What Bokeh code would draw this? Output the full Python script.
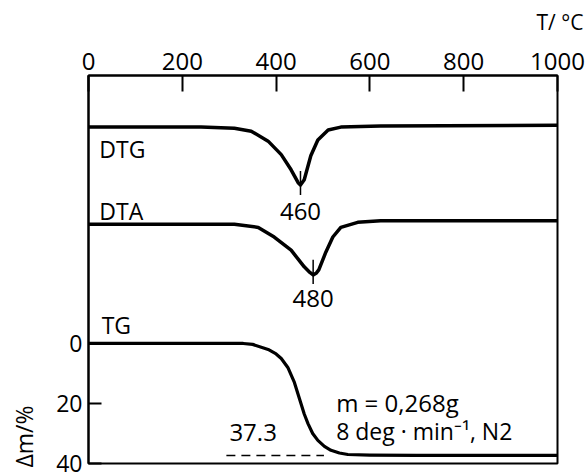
import math
from bokeh.plotting import figure
from bokeh.models import Range1d, FixedTicker, Label, Title
from bokeh.embed import file_html
from bokeh.resources import INLINE

# ---- data ----
t_ticks = [0, 200, 400, 600, 800, 1000]
dm_ticks = [0, 20, 40]

# DTG signal (arbitrary units, baseline 0, peak about -10)
dtg_T = [0, 240, 311, 347, 383, 411, 432, 447, 452, 460, 474, 489, 511, 538, 623, 1000]
dtg_val = [0, 0, -0.2, -0.7, -2.4, -4.7, -7.3, -9.5, -9.9, -9.0, -4.9, -2.2, -0.5, 0, 0.2, 0.3]
dtg_peak_label = "460"

# DTA signal (arbitrary units, baseline 0, peak about -10)
dta_T = [0, 240, 311, 362, 396, 432, 460, 472, 479, 486, 491, 506, 521, 538, 574, 623, 1000]
dta_val = [0, 0, 0, -0.6, -2.5, -5.1, -8.4, -9.5, -10.0, -9.6, -9.0, -5.5, -2.5, -0.6, 0.4, 0.7, 0.7]
dta_peak_label = "480"

# TG mass loss (%)
tg_T = [0, 330, 350, 383, 400, 411, 425, 439, 447, 453, 460, 468, 478, 489, 503, 517, 535, 553, 600, 700, 1000]
tg_dm = [0, 0, 0.3, 2, 3.5, 5, 8, 13, 17, 20, 23.5, 26.7, 30, 32.3, 34.3, 35.6, 36.5, 37.0, 37.2, 37.3, 37.3]
final_loss = 37.3
ref_T = [294, 502]

FONT = "Open Sans"

p = figure(width=587, height=472,
           x_range=Range1d(0, 1000), y_range=Range1d(40, -89.3),
           x_axis_location="above", y_axis_location="left",
           output_backend="svg", toolbar_location=None,
           min_border_left=87, min_border_right=30,
           min_border_top=72, min_border_bottom=9)
p.extra_y_ranges = {"dtg": Range1d(-57.46, 8.81), "dta": Range1d(-47.25, 29.41)}

p.xgrid.visible = False
p.ygrid.visible = False
p.outline_line_color = "black"
p.outline_line_width = 2
p.background_fill_color = "white"
p.border_fill_color = "white"

xa = p.xaxis[0]
xa.ticker = FixedTicker(ticks=t_ticks)
xa.major_tick_in = 16
xa.major_tick_out = 0
xa.minor_tick_line_color = None
xa.axis_line_width = 2
xa.major_tick_line_width = 2
xa.major_label_text_font = FONT
xa.major_label_text_font_size = "24px"
xa.major_label_text_color = "black"
xa.major_label_standoff = 6
# blank axis label used only as spacing between tick labels and the caption
xa.axis_label = " "
xa.axis_label_standoff = 0
xa.axis_label_text_font_size = "5px"

ya = p.yaxis[0]
ya.ticker = FixedTicker(ticks=dm_ticks)
ya.major_tick_in = 13
ya.major_tick_out = 0
ya.minor_tick_line_color = None
ya.axis_line_width = 2
ya.major_tick_line_width = 2
ya.major_label_text_font = FONT
ya.major_label_text_font_size = "23px"
ya.major_label_text_color = "black"
ya.major_label_standoff = 6
ya.axis_label = " "
ya.axis_label_standoff = 0
ya.axis_label_text_font_size = "5px"

# axis captions as titles (drawn outside the frame)
p.add_layout(Title(text="T/ °C", align="right", offset=-26, text_font=FONT,
                   text_font_size="21px", text_font_style="normal",
                   text_color="black"), "above")
p.add_layout(Title(text="Δm/%", align="left", offset=-4, text_font=FONT,
                   text_font_size="23px", text_font_style="normal",
                   text_color="black"), "left")

# curves
p.line(dtg_T, dtg_val, y_range_name="dtg", line_width=3.5, color="black", line_join="round")
p.line(dta_T, dta_val, y_range_name="dta", line_width=3.5, color="black", line_join="round")
p.line(tg_T, tg_dm, line_width=3.2, color="black", line_join="round")
p.line(ref_T, [final_loss, final_loss], line_width=1.5, color="black", line_dash="9 6")

# peak markers
i_g = dtg_val.index(min(dtg_val))
i_a = dta_val.index(min(dta_val))
p.segment(x0=[dtg_T[i_g]], y0=[dtg_val[i_g] + 2.4], x1=[dtg_T[i_g]], y1=[dtg_val[i_g] - 1.7],
          y_range_name="dtg", line_width=1.5, color="black")
p.segment(x0=[dta_T[i_a]], y0=[dta_val[i_a] + 3.0], x1=[dta_T[i_a]], y1=[dta_val[i_a] - 1.8],
          y_range_name="dta", line_width=1.5, color="black")

def lab(text, x, y, size="24px", align="left", rng="default", angle=0.0):
    p.add_layout(Label(x=x, y=y, text=text, text_font=FONT, text_font_size=size,
                       text_color="black", text_align=align, text_baseline="middle",
                       y_range_name=rng, angle=angle))

lab(dtg_peak_label, dtg_T[i_g], -14.4, align="center", rng="dtg")
lab(dta_peak_label, dta_T[i_a], -14.7, align="center", rng="dta")
lab("DTG", 23, -64.8, size="23px")
lab("DTA", 23, -44.3, size="23px")
lab("TG", 28, -6.3, size="23px")
lab(str(final_loss), 351, 29.7, align="center")
lab("m = 0,268g", 528, 19.8)
lab("8 deg · min⁻¹, N2", 528, 29.1, size="23px")

open("out.html", "w").write(file_html(p, INLINE))
